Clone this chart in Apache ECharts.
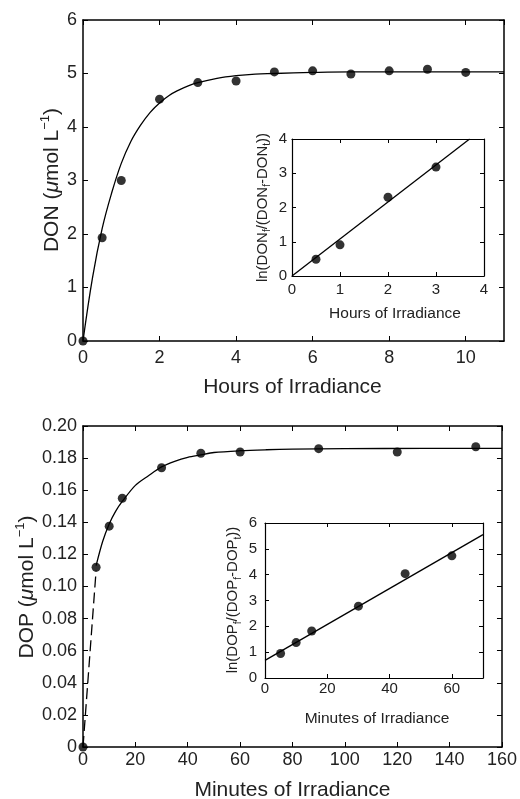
<!DOCTYPE html>
<html>
<head>
<meta charset="utf-8">
<script src="https://cdn.jsdelivr.net/npm/echarts@6/dist/echarts.min.js"></script>
<style>
html,body{margin:0;padding:0;background:#fff;}
#chart{width:520px;height:799px;}
</style>
</head>
<body>
<div id="chart"></div>
<script>
// ---- Data ----
// Top panel: DON vs hours
const donHours = [0, 0.5, 1, 2, 3, 4, 5, 6, 7, 8, 9, 10];
const donValues = [0, 1.93, 3.0, 4.52, 4.83, 4.86, 5.03, 5.05, 4.99, 5.05, 5.08, 5.02];
const donFitHours = [0, 0.25, 0.5, 0.75, 1, 1.25, 1.5, 1.75, 2, 2.25, 2.5, 2.75, 3, 3.5, 4, 4.5, 5, 6, 7, 8, 9, 10, 11];
const donFitValues = [0, 1.19, 2.10, 2.77, 3.32, 3.73, 4.03, 4.27, 4.45, 4.59, 4.69, 4.77, 4.83, 4.91, 4.96, 4.99, 5.00, 5.02, 5.03, 5.03, 5.03, 5.03, 5.03];
// Top inset
const donInsetHours = [0.5, 1, 2, 3];
const donInsetValues = [0.49, 0.91, 2.30, 3.18];
const donInsetLineHours = [0, 3.7];
const donInsetLineValues = [0, 4];
// Bottom panel: DOP vs minutes
const dopMinutes = [0, 5, 10, 15, 30, 45, 60, 90, 120, 150];
const dopValues = [0, 0.112, 0.1376, 0.155, 0.174, 0.183, 0.1838, 0.1859, 0.1838, 0.1871];
const dopFitMinutes = [5, 7.5, 10, 12.5, 15, 20, 25, 30, 35, 40, 45, 50, 60, 70, 80, 100, 130, 160];
const dopFitValues = [0.113, 0.128, 0.139, 0.147, 0.153, 0.163, 0.169, 0.1745, 0.178, 0.1805, 0.182, 0.1835, 0.1846, 0.1852, 0.1856, 0.1859, 0.186, 0.186];
const dopDashMinutes = [0, 5];
const dopDashValues = [0, 0.11];
// Bottom inset
const dopInsetMinutes = [5, 10, 15, 30, 45, 60];
const dopInsetValues = [0.95, 1.37, 1.82, 2.78, 4.04, 4.73];
const dopInsetLineMinutes = [0, 70];
const dopInsetLineValues = [0.68, 5.55];

// Tick label texts
const donYTicks = ['0','1','2','3','4','5','6'];
const dopYTicks = ['0','0.02','0.04','0.06','0.08','0.10','0.12','0.14','0.16','0.18','0.20'];

// ---- Helpers ----
const FONT = "'Liberation Sans', Arial, Helvetica, sans-serif";
const zip = (xs, ys) => xs.map((x, i) => [x, ys[i]]);

function axisPair(kind, grid, min, max, interval, fs, tickLen, lw, margin, fmt, hideMax) {
  const line = {show: true, onZero: false, lineStyle: {color: '#000', width: lw}};
  const tick = {show: true, inside: true, length: tickLen, lineStyle: {color: '#000', width: 1}};
  const pos = kind === 'x' ? ['bottom', 'top'] : ['left', 'right'];
  return [
    {type: 'value', gridIndex: grid, position: pos[0], min, max, interval,
     axisLine: line, splitLine: {show: false}, axisTick: tick,
     axisLabel: {show: true, color: '#222', fontSize: fs, fontFamily: FONT, margin,
                 showMaxLabel: !hideMax, formatter: fmt}},
    {type: 'value', gridIndex: grid, position: pos[1], min, max, interval,
     axisLine: line, splitLine: {show: false}, axisTick: tick,
     axisLabel: {show: false}}
  ];
}

const xAxes = [].concat(
  axisPair('x', 0, 0, 11, 2, 18, 5, 1.5, 8, v => String(v), true),
  axisPair('x', 1, 0, 4, 1, 15, 4, 1.2, 6, v => String(v), false),
  axisPair('x', 2, 0, 160, 20, 18, 5, 1.5, 4, v => String(v), false),
  axisPair('x', 3, 0, 70, 20, 15, 4, 1.2, 3, v => String(v), true)
);
const yAxes = [].concat(
  axisPair('y', 0, 0, 6, 1, 18, 5, 1.5, 6, v => donYTicks[Math.round(v)]),
  axisPair('y', 1, 0, 4, 1, 15, 4, 1.2, 5, v => String(v)),
  axisPair('y', 2, 0, 0.2, 0.02, 18, 5, 1.5, 6, v => dopYTicks[Math.round(v / 0.02)]),
  axisPair('y', 3, 0, 6, 1, 15, 4, 1.2, 8, v => String(v))
);

function scatter(ax, data, size) {
  return {type: 'scatter', xAxisIndex: ax, yAxisIndex: ax, data, symbol: 'circle',
          symbolSize: size, itemStyle: {color: '#000'}, clip: false, z: 5, silent: true};
}
function line(ax, data, opts) {
  return Object.assign({type: 'line', xAxisIndex: ax, yAxisIndex: ax, data, showSymbol: false,
          symbol: 'none', lineStyle: {color: '#000', width: 1.3}, z: 3, silent: true, clip: true}, opts || {});
}

const series = [
  line(0, zip(donFitHours, donFitValues), {smooth: 0.4}),
  scatter(0, zip(donHours, donValues), 9),
  line(2, zip(donInsetLineHours, donInsetLineValues)),
  scatter(2, zip(donInsetHours, donInsetValues), 9),
  line(4, zip(dopFitMinutes, dopFitValues), {smooth: 0.3}),
  line(4, zip(dopDashMinutes, dopDashValues), {lineStyle: {color: '#000', width: 1.3, type: [11, 5]}}),
  scatter(4, zip(dopMinutes, dopValues), 9),
  line(6, zip(dopInsetLineMinutes, dopInsetLineValues)),
  scatter(6, zip(dopInsetMinutes, dopInsetValues), 9)
];

function title(x, y, text, fs, rotate, rich) {
  return {type: 'text', x, y, rotation: rotate ? Math.PI / 2 : 0, z: 100, silent: true,
          style: {text, fill: '#222', fontSize: fs, fontFamily: FONT, align: 'center',
                  verticalAlign: 'middle', rich: rich || undefined}};
}
const mainRich = {
  n: {fontSize: 21, fontFamily: FONT, color: '#222', lineHeight: 26, verticalAlign: 'middle'},
  i: {fontSize: 21, fontFamily: FONT, fontStyle: 'italic', color: '#222', lineHeight: 26, verticalAlign: 'middle'},
  s: {fontSize: 13, fontFamily: FONT, color: '#222', lineHeight: 14, verticalAlign: 'top'}
};
const insetRich = {
  n: {fontSize: 15, fontFamily: FONT, color: '#222', lineHeight: 20, verticalAlign: 'middle'},
  b: {fontSize: 10, fontFamily: FONT, color: '#222', lineHeight: 10, verticalAlign: 'bottom'}
};

const option = {
  backgroundColor: '#fff',
  animation: false,
  grid: [
    {left: 83, top: 20, width: 421, height: 321, show: false},
    {left: 292, top: 139, width: 192, height: 137, show: true, backgroundColor: '#fff', borderWidth: 0},
    {left: 83, top: 426, width: 420, height: 321, show: false},
    {left: 265, top: 523, width: 218, height: 155, show: true, backgroundColor: '#fff', borderWidth: 0}
  ],
  xAxis: xAxes,
  yAxis: yAxes,
  series,
  graphic: [
    title(292.5, 387, 'Hours of Irradiance', 21, false),
    title(292.5, 790, 'Minutes of Irradiance', 21, false),
    title(395, 314, 'Hours of Irradiance', 15.5, false),
    title(377, 719, 'Minutes of Irradiance', 15.5, false),
    title(52, 180, '{n|DON (}{i|μ}{n|mol L}{s|−1}{n|)}', 21, true, mainRich),
    title(27, 587, '{n|DOP (}{i|μ}{n|mol L}{s|−1}{n|)}', 21, true, mainRich),
    title(262.5, 207.5, '{n|ln(DON}{b|f}{n|/(DON}{b|f}{n|-DON}{b|t}{n|))}', 15, true, insetRich),
    title(233, 600, '{n|ln(DOP}{b|f}{n|/(DOP}{b|f}{n|-DOP}{b|t}{n|))}', 15, true, insetRich)
  ]
};

const chart = echarts.init(document.getElementById('chart'), null, {renderer: 'canvas'});
chart.setOption(option);
</script>
</body>
</html>
